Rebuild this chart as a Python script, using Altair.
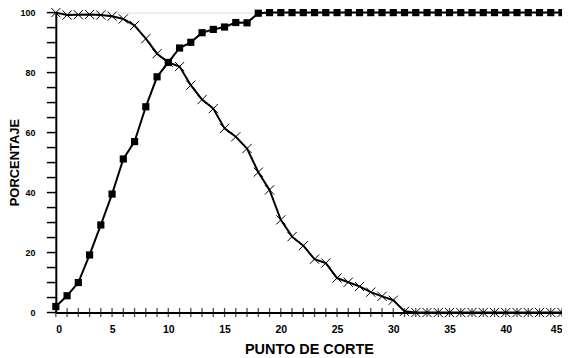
import altair as alt
import pandas as pd

punto = list(range(0, 46))
sensibilidad = [2, 5.6, 10, 19.2, 29.2, 39.5, 51.2, 57, 68.6, 78.6, 83.4, 88.2, 90.1,
                93.3, 94.4, 95.2, 96.7, 96.6, 99.8] + [100] * 27
especificidad = [100, 99.2, 99.3, 99.4, 99.2, 98.8, 97.9, 95.7, 91.3, 86.3, 83.4, 82,
                 75.8, 71, 68, 61.4, 58.6, 54.7, 46.8, 40.9, 30.9, 25.3, 22.3, 17.8,
                 16.5, 11.5, 10.1, 8.7, 6.8, 5.4, 4.1, 0.4] + [0] * 14
base = [0] * 46
x_labels = list(range(0, 46, 5))
y_ticks = list(range(0, 101, 5))

df = pd.DataFrame({"x": punto, "sens": sensibilidad, "spec": especificidad, "base": base})
dft = pd.DataFrame({"yt": y_ticks, "x0": [0] * len(y_ticks)})

FONT = "Liberation Sans"
xs = alt.Scale(domain=[0, 45], nice=False)
ys = alt.Scale(domain=[0, 100], nice=False)

common = dict(labelFont=FONT, labelFontWeight="bold", labelColor="black",
              titleFont=FONT, titleFontWeight="bold", titleColor="black",
              domainColor="black", domainWidth=2, grid=False, ticks=False)

xax = alt.Axis(title="PUNTO DE CORTE", values=x_labels,
               labelFontSize=10.5, labelPadding=12,
               titleFontSize=14.5, titlePadding=8, **common)
yax = alt.Axis(title="PORCENTAJE", values=y_ticks,
               labelExpr="datum.value % 20 == 0 ? datum.label : ''",
               labelFontSize=9, labelPadding=21,
               titleFontSize=13,
               titleX=-41, titleY=150, titleBaseline="middle", titleAngle=270,
               titleAlign="center", **common)

b = alt.Chart(df)
X = alt.X("x:Q", scale=xs, axis=xax)

yticks = alt.Chart(dft).mark_tick(color="black", thickness=1.5, size=10,
                                  orient="horizontal", xOffset=-4, opacity=1).encode(
    x=alt.X("x0:Q", scale=xs, axis=xax), y=alt.Y("yt:Q", scale=ys, axis=yax))

ticks = b.mark_tick(color="black", thickness=1.3, size=9, orient="vertical").encode(
    x=X, y=alt.Y("base:Q", scale=ys, axis=yax))

line_s = b.mark_line(color="black", strokeWidth=2).encode(
    x=X, y=alt.Y("sens:Q", scale=ys, axis=yax))
pts_s = b.mark_point(shape="square", filled=True, color="black", size=52, opacity=1).encode(
    x=X, y=alt.Y("sens:Q", scale=ys, axis=yax))

line_e = b.mark_line(color="black", strokeWidth=2).encode(
    x=X, y=alt.Y("spec:Q", scale=ys, axis=yax))
pts_e = b.mark_point(shape="M-1,-1L1,1M-1,1L1,-1", filled=False, color="black",
                     strokeWidth=1, size=85, opacity=1).encode(
    x=X, y=alt.Y("spec:Q", scale=ys, axis=yax))

chart = alt.layer(yticks, ticks, line_e, pts_e, line_s, pts_s).properties(
    width=508, height=301,
    autosize=alt.AutoSizeParams(type="none"),
    padding={"left": 48, "top": 4, "right": 0, "bottom": 46},
).configure_view(
    stroke="black", strokeWidth=1
).configure(background="white")

chart.save("out.html", embed_options={"renderer": "svg", "actions": False})
